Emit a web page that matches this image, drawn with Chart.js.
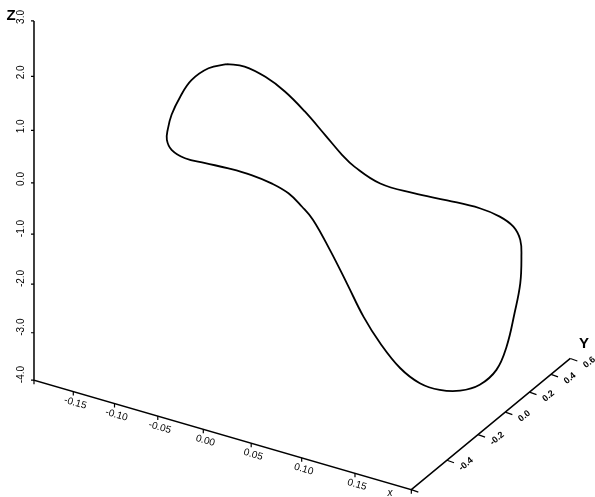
<!DOCTYPE html>
<html>
<head>
<meta charset="utf-8">
<script src="https://cdn.jsdelivr.net/npm/chart.js@4.4.1/dist/chart.umd.min.js"></script>
<style>
  html, body { margin: 0; padding: 0; background: #fff; }
  #wrap { width: 595px; height: 497px; }
</style>
</head>
<body>
<div id="wrap"><canvas id="plot" width="595" height="497"></canvas></div>
<script>
// box of the 3d plot
const xRange = [-0.2, 0.2];
const yRange = [-0.6, 0.6];
const zRange = [-4.0, 3.0];

// tick labels
const xTicks = [-0.15, -0.10, -0.05, 0.00, 0.05, 0.10, 0.15];
const yTicks = [-0.4, -0.2, 0.0, 0.2, 0.4, 0.6];
const zTicks = [3.0, 2.0, 1.0, 0.0, -1.0, -2.0, -3.0, -4.0];

// closed curve (taken in the plane y = 0.2)
const curveY = 0.2;
const curveX = [-0.107, -0.086, -0.062, -0.040, -0.018, 0.004, 0.022, 0.035, 0.061, 0.094,
  0.126, 0.156, 0.174, 0.186, 0.192, 0.193, 0.192, 0.187, 0.180, 0.171,
  0.156, 0.138, 0.119, 0.100, 0.081, 0.061, 0.044, 0.027, 0.009, -0.009,
  -0.021, -0.036, -0.055, -0.078, -0.105, -0.133, -0.158, -0.175, -0.181, -0.180,
  -0.175, -0.164, -0.150, -0.129];
const curveZ = [0.82, 0.87, 0.79, 0.62, 0.35, 0.01, -0.28, -0.44, -0.62, -0.62,
  -0.57, -0.54, -0.59, -0.71, -0.93, -1.26, -1.80, -2.44, -3.18, -3.73,
  -4.15, -4.40, -4.51, -4.49, -4.29, -3.88, -3.42, -2.83, -2.24, -1.73,
  -1.53, -1.34, -1.24, -1.19, -1.19, -1.22, -1.24, -1.15, -0.98, -0.78,
  -0.46, -0.06, 0.32, 0.64];

// oblique view with a bit of perspective along each axis
function project(x, y, z) {
  const xs = 203.3 + 933.4 * x / (1 - 0.5133 * x);
  const ys = 506.7 + 128.1 * y / (1 + 0.304 * y);
  const zs = 182.7 - 51.89 * z / (1 - 0.01301 * z);
  return {
    x: xs + (ys - 412.7),
    y: 380 + 0.29 * (xs - 33.3) - 0.825 * (ys - 412.7) + (zs - 380)
  };
}

const gap = { x: null, y: null };

// curve
const curveData = curveX.map((x, i) => project(x, curveY, curveZ[i]));
curveData.push(curveData[0]);

// axis lines
const x0 = xRange[0], x1 = xRange[1], y0 = yRange[0], y1 = yRange[1], z0 = zRange[0], z1 = zRange[1];
const axisData = [
  project(x0, y0, z1), project(x0, y0, z0), project(x1, y0, z0), project(x1, y1, z0)
];

// tick marks
const tickData = [];
zTicks.forEach(z => {
  const p = project(x0, y0, z);
  tickData.push(p, { x: p.x - 3, y: p.y }, gap);
});
xTicks.concat(xRange).forEach(x => {
  const p = project(x, y0, z0);
  tickData.push(p, { x: p.x, y: p.y + 4 }, gap);
});
yTicks.concat([y0]).forEach(y => {
  const p = project(x1, y, z0);
  tickData.push(p, { x: p.x + 7, y: p.y + 2.5 }, gap);
});

const labelPlugin = {
  id: 'axisLabels',
  afterDatasetsDraw(chart) {
    const ctx = chart.ctx;
    const sx = chart.scales.x, sy = chart.scales.y;
    const px = p => ({ x: sx.getPixelForValue(p.x), y: sy.getPixelForValue(p.y) });
    ctx.save();
    ctx.fillStyle = '#000';
    ctx.font = '10px "Liberation Sans", Arial, sans-serif';
    ctx.textBaseline = 'middle';

    zTicks.forEach(z => {
      const p = px(project(x0, y0, z));
      ctx.save();
      ctx.translate(p.x - 13, p.y + 3);
      ctx.rotate(-Math.PI / 2);
      ctx.textAlign = 'left';
      ctx.fillText(z.toFixed(1), 0, 0);
      ctx.restore();
    });

    xTicks.forEach(x => {
      const p = px(project(x, y0, z0));
      ctx.save();
      ctx.translate(p.x + 2, p.y + 11.5);
      ctx.rotate(Math.atan(0.29));
      ctx.textAlign = 'center';
      ctx.fillText(x.toFixed(2), 0, 0);
      ctx.restore();
    });

    yTicks.forEach(y => {
      const p = px(project(x1, y, z0));
      ctx.save();
      ctx.translate(p.x + 19, p.y + 4);
      ctx.rotate(-Math.atan(0.825));
      ctx.textAlign = 'center';
      ctx.font = 'bold 9px "Liberation Sans", Arial, sans-serif';
      ctx.fillText(y.toFixed(1), 0, 0);
      ctx.restore();
    });

    ctx.textAlign = 'center';
    ctx.font = 'bold 15px "Liberation Sans", Arial, sans-serif';
    ctx.fillText('Z', 11, 16);
    ctx.fillText('Y', 584, 344);
    ctx.font = 'italic 10px "Liberation Sans", Arial, sans-serif';
    ctx.fillText('x', 390, 493);
    ctx.restore();
  }
};

new Chart(document.getElementById('plot').getContext('2d'), {
  type: 'scatter',
  data: {
    datasets: [
      {
        label: 'curve',
        data: curveData,
        showLine: true,
        borderColor: '#000',
        borderWidth: 1.8,
        pointRadius: 0,
        tension: 0.4,
        fill: false
      },
      {
        label: 'axes',
        data: axisData,
        showLine: true,
        borderColor: '#000',
        borderWidth: 1.5,
        pointRadius: 0,
        tension: 0
      },
      {
        label: 'ticks',
        data: tickData,
        showLine: true,
        spanGaps: false,
        borderColor: '#000',
        borderWidth: 1.2,
        pointRadius: 0,
        tension: 0
      }
    ]
  },
  options: {
    responsive: false,
    animation: false,
    devicePixelRatio: 1,
    events: [],
    layout: { padding: 0 },
    plugins: {
      legend: { display: false },
      tooltip: { enabled: false }
    },
    scales: {
      x: { type: 'linear', min: 0, max: 595, display: false },
      y: { type: 'linear', min: 0, max: 497, reverse: true, display: false }
    }
  },
  plugins: [labelPlugin]
});
</script>
</body>
</html>
